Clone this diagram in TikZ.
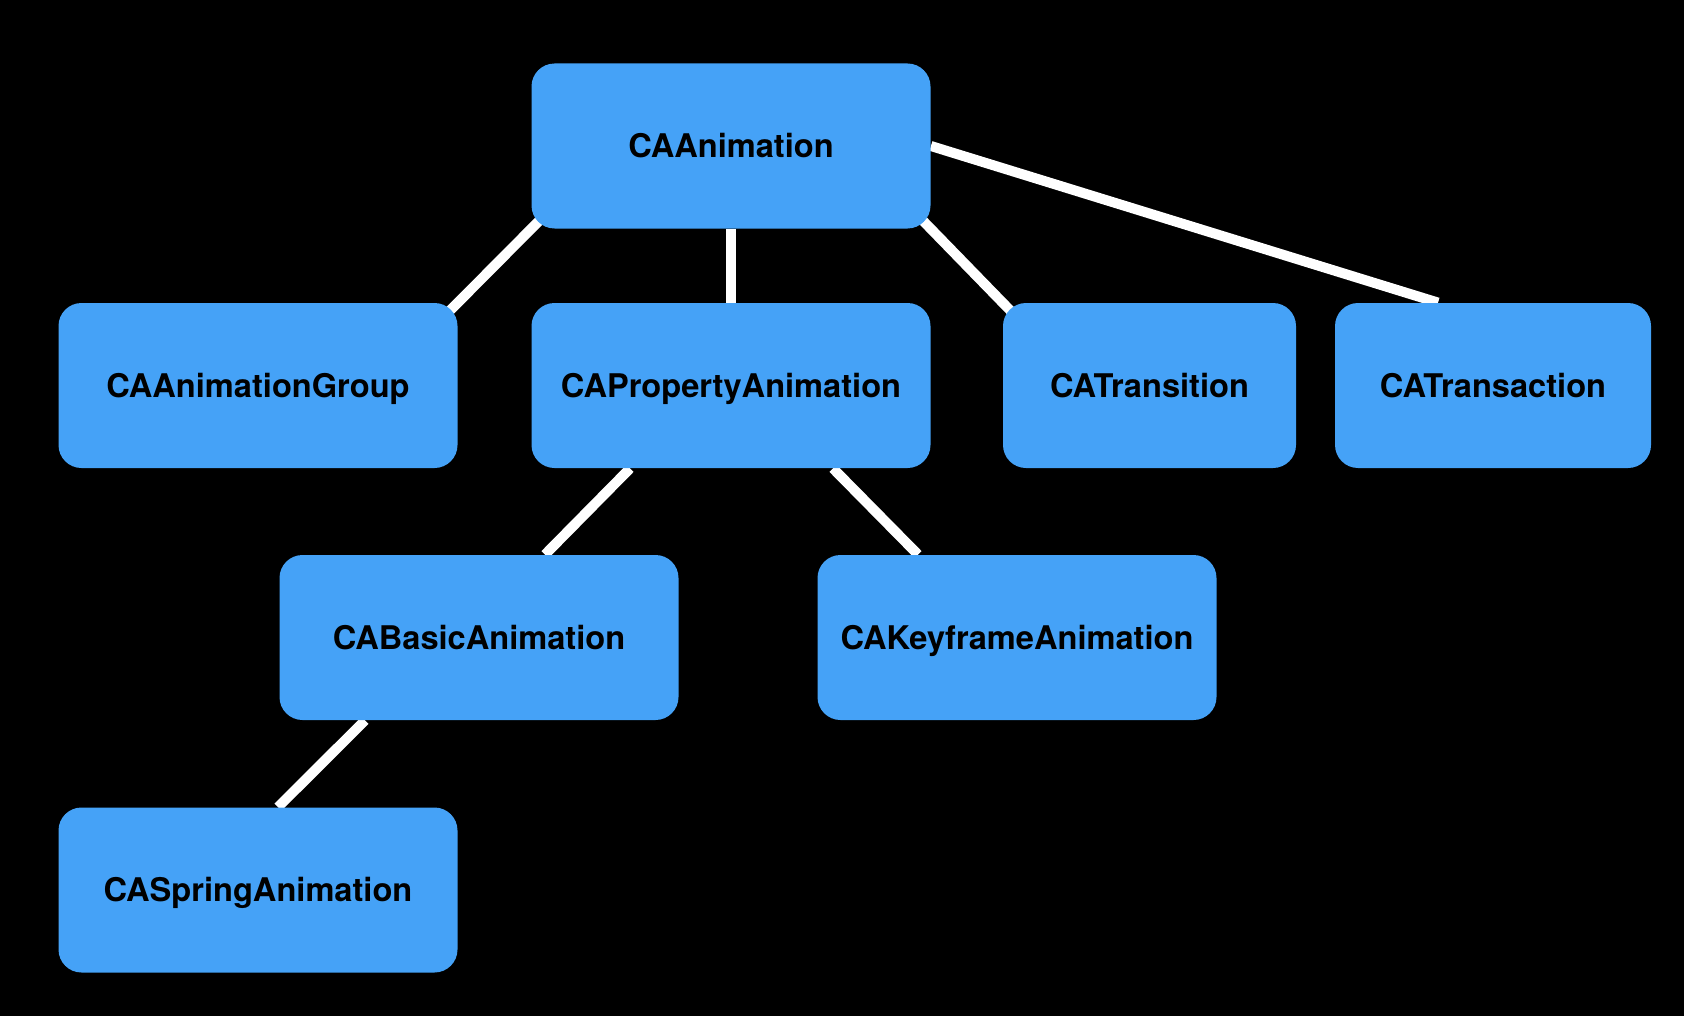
\documentclass[tikz,border=0pt]{standalone}
\usepackage{fontspec}
\setmainfont{TeX Gyre Heros}
\usepackage{xcolor}
\usepackage{tikz}
\usetikzlibrary{positioning}
\definecolor{boxblue}{HTML}{45A2F7}
\definecolor{canvas}{HTML}{000000}
\pgfdeclarelayer{back}
\pgfsetlayers{back,main}

\begin{document}
\begin{tikzpicture}[
  x=0.5pt, y=-0.5pt,
  font=\bfseries\fontsize{16.3}{19}\selectfont,
  cls/.style={fill=boxblue, rounded corners=11.5pt, minimum width=199.5pt, minimum height=82.5pt, inner sep=0pt, text height=11.7pt, text depth=0pt},
  link/.style={draw=white, line width=5pt},
  deep/.style={shorten <=-10pt, shorten >=-10pt}
]
\node[cls] (anim) at (731,146) {CAAnimation};
\node[cls] (group) at (258,385.5) {CAAnimationGroup};
\node[cls] (prop) at (731,385.5) {CAPropertyAnimation};
\node[cls, minimum width=146.5pt] (trans) at (1149.5,385.5) {CATransition};
\node[cls, minimum width=158pt] (trsc) at (1493,385.5) {CATransaction};
\node[cls] (basic) at (479,637.5) {CABasicAnimation};
\node[cls] (key) at (1017,637.5) {CAKeyframeAnimation};
\node[cls] (spring) at (258,890) {CASpringAnimation};

% black canvas and connectors sit behind the boxes
\begin{pgfonlayer}{back}
\fill[canvas] (0,0) rectangle (1684,1016);
\draw[link, deep] (anim.south west) -- (group.north east);
\draw[link] (anim.south) -- (prop.north);
\draw[link, deep] (anim.south east) -- (trans.north west);
\draw[link] (anim.east) -- ([xshift=-27.5pt]trsc.north);
\draw[link] ([xshift=-50.5pt]prop.south) -- ([xshift=33pt]basic.north);
\draw[link] ([xshift=51pt]prop.south) -- ([xshift=-49.5pt]key.north);
\draw[link] ([xshift=-57pt]basic.south) -- ([xshift=10pt]spring.north);
\end{pgfonlayer}
\useasboundingbox (0,0) rectangle (1684,1016);
\end{tikzpicture}
\end{document}
